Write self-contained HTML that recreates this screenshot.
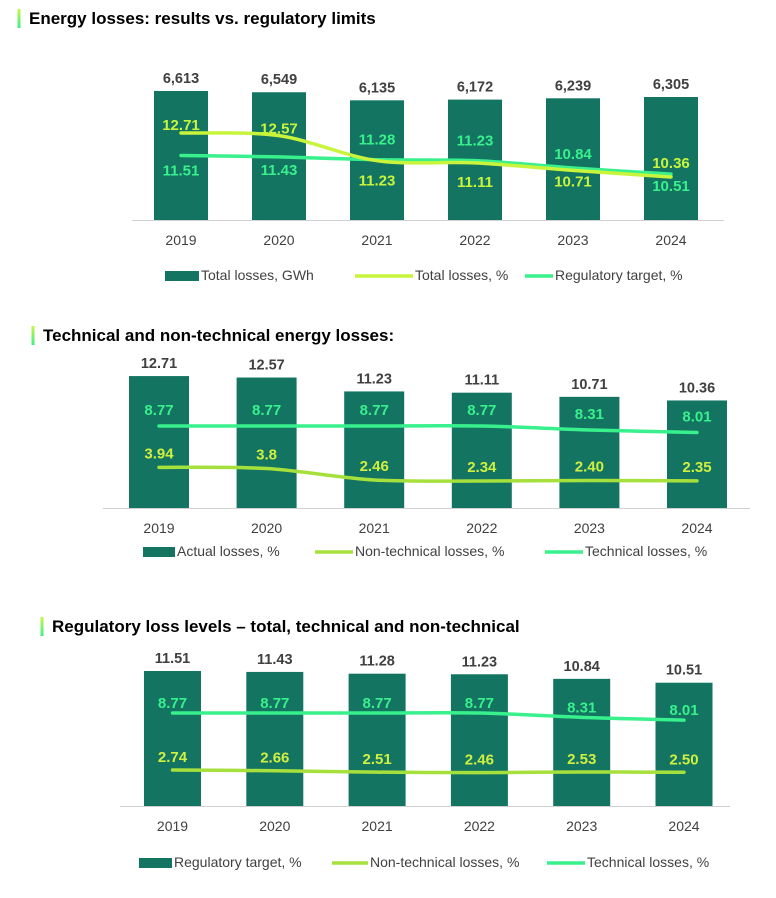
<!DOCTYPE html>
<html><head><meta charset="utf-8">
<style>
body{margin:0;background:#fff;width:776px;height:898px;overflow:hidden;font-family:"Liberation Sans",Arial,sans-serif}
svg{position:absolute;left:0;top:0}
</style></head>
<body>
<svg id="c" width="776" height="898" viewBox="0 0 776 898">
<defs><linearGradient id="tg" x1="0" y1="0" x2="0" y2="1"><stop offset="0" stop-color="#c8f545"/><stop offset="1" stop-color="#3df08a"/></linearGradient></defs>
</svg>
<script>
const years = ["2019","2020","2021","2022","2023","2024"];
// Chart 1
const c1Bars = [6613,6549,6135,6172,6239,6305];
const c1BarLabels = ["6,613","6,549","6,135","6,172","6,239","6,305"];
const c1Total = [12.71,12.57,11.23,11.11,10.71,10.36];
const c1Target = [11.51,11.43,11.28,11.23,10.84,10.51];
// Chart 2
const c2Bars = [12.71,12.57,11.23,11.11,10.71,10.36];
const c2NonTech = [3.94,3.8,2.46,2.34,2.40,2.35];
const c2NonTechLabels = ["3.94","3.8","2.46","2.34","2.40","2.35"];
const c2Tech = [8.77,8.77,8.77,8.77,8.31,8.01];
// Chart 3
const c3Bars = [11.51,11.43,11.28,11.23,10.84,10.51];
const c3NonTech = [2.74,2.66,2.51,2.46,2.53,2.50];
const c3NonTechLabels = ["2.74","2.66","2.51","2.46","2.53","2.50"];
const c3Tech = [8.77,8.77,8.77,8.77,8.31,8.01];

const NS="http://www.w3.org/2000/svg";
const svg=document.getElementById('c');
const BAR="#137461", LIME="#c8f53c", LIME2="#a6e03c", MINT="#38f08c", TXT="#404040";
function el(tag,attrs,parent){const e=document.createElementNS(NS,tag);for(const k in attrs)e.setAttribute(k,attrs[k]);(parent||svg).appendChild(e);return e;}
function txt(x,y,s,attrs){const t=el('text',Object.assign({x:x,y:y,'text-anchor':'middle','font-family':'Liberation Sans, Arial, sans-serif'},attrs));t.textContent=s;return t;}
function smooth(pts){let d="M"+pts[0][0]+","+pts[0][1];for(let i=0;i<pts.length-1;i++){const p0=pts[i-1]||pts[i],p1=pts[i],p2=pts[i+1],p3=pts[i+2]||p2;const t=0.16;d+=" C"+(p1[0]+(p2[0]-p0[0])*t)+","+(p1[1]+(p2[1]-p0[1])*t)+" "+(p2[0]-(p3[0]-p1[0])*t)+","+(p2[1]-(p3[1]-p1[1])*t)+" "+p2[0]+","+p2[1];}return d;}

function chart(cfg){
  const g=el('g',{});
  
  
  const tb=el('rect',{x:cfg.titleX-1.5,y:cfg.titleY-15,width:3,height:19,fill:'url(#tg)'},g);
  
  
  const tt=txt(cfg.titleX+10,cfg.titleY,cfg.title,{'text-anchor':'start','font-size':17,'font-weight':'bold',fill:'#000'});
  g.appendChild(tt);
  
  
  const xc=i=>cfg.x0+i*cfg.step;
  const yb=v=>cfg.axisY-v*cfg.barScale;
  const yl=v=>cfg.lineBase-v*cfg.lineScale;
  const ax=el('line',{x1:cfg.axL,x2:cfg.axR,y1:cfg.axisY+0.5,y2:cfg.axisY+0.5,stroke:'#d0d0d0','stroke-width':1},g);
  
  
  cfg.bars.forEach((v,i)=>{
    const r=el('rect',{x:xc(i)-cfg.bw/2,y:yb(v),width:cfg.bw,height:v*cfg.barScale,fill:BAR},g);
    
    
    const l=txt(xc(i),yb(v)-8,cfg.barLabels[i],{'font-size':14.5,'font-weight':'bold',fill:TXT});g.appendChild(l);
    
    
    const xl=txt(xc(i),cfg.axisY+25,years[i],{'font-size':14,fill:TXT});g.appendChild(xl);
    
    
  });
  cfg.lines.forEach(L=>{
    const pts=L.values.map((v,i)=>[xc(i),yl(v)]);
    const p=el('path',{d:smooth(pts),fill:'none',stroke:L.color,'stroke-width':3.5,'stroke-linecap':'round'},g);
    
    
    L.values.forEach((v,i)=>{
      const t=txt(xc(i),yl(v)+L.off[i],L.labels[i],{'font-size':15,'font-weight':'bold',fill:L.tcolor});g.appendChild(t);
      
      
    });
  });
  cfg.legend.forEach(e=>{
    const lg=el('g',{},g);
    
    
    if(e.type==='bar') el('rect',{x:e.x1,y:cfg.legY-9,width:e.x2-e.x1,height:10,fill:BAR},lg);
    else el('line',{x1:e.x1,x2:e.x2,y1:cfg.legY-4,y2:cfg.legY-4,stroke:e.color,'stroke-width':3.5},lg);
    lg.appendChild(txt(e.x2+2,cfg.legY,e.label,{'text-anchor':'start','font-size':14,fill:TXT}));
  });
}

chart({name:'energy-losses-chart',title:'Energy losses: results vs. regulatory limits',titleX:19,titleY:24,
  x0:181,step:98,bw:54,axisY:220,axL:132,axR:724,barScale:129/6613,
  lineBase:133+12.71*18.7,lineScale:18.7,bars:c1Bars,barLabels:c1BarLabels,legY:280,
  lines:[
    {name:'regulatory-target',values:c1Target,labels:c1Target.map(v=>v.toFixed(2)),color:MINT,tcolor:MINT,off:[20,18,-15,-15,-9,17]},
    {name:'total-losses-pct',values:c1Total,labels:c1Total.map(v=>v.toFixed(2)),color:LIME,tcolor:LIME,off:[-3,-2,25,24,16,-9]}
  ],
  legend:[{type:'bar',x1:165,x2:199,label:'Total losses, GWh'},{type:'line',x1:355,x2:413,color:LIME,label:'Total losses, %'},{type:'line',x1:525,x2:553,color:MINT,label:'Regulatory target, %'}]});

chart({name:'technical-nontechnical-chart',title:'Technical and non-technical energy losses:',titleX:33,titleY:341,
  x0:159,step:107.6,bw:60,axisY:508,axL:103,axR:750,barScale:10.38,
  lineBase:501,lineScale:8.55,bars:c2Bars,barLabels:c2Bars.map(v=>v.toFixed(2)),legY:556,
  lines:[
    {name:'technical-losses',values:c2Tech,labels:c2Tech.map(v=>v.toFixed(2)),color:MINT,tcolor:MINT,off:[-11,-11,-11,-11,-11,-11]},
    {name:'non-technical-losses',values:c2NonTech,labels:c2NonTechLabels,color:LIME2,tcolor:'#d0f040',off:[-9,-9,-9,-9,-9,-9]}
  ],
  legend:[{type:'bar',x1:143,x2:175,label:'Actual losses, %'},{type:'line',x1:315,x2:353,color:LIME2,label:'Non-technical losses, %'},{type:'line',x1:545,x2:583,color:MINT,label:'Technical losses, %'}]});

chart({name:'regulatory-loss-levels-chart',title:'Regulatory loss levels \u2013 total, technical and non-technical',titleX:42,titleY:632,
  x0:172.5,step:102.3,bw:57,axisY:806,axL:120,axR:730,barScale:11.73,
  lineBase:713+8.77*9.45,lineScale:9.45,bars:c3Bars,barLabels:c3Bars.map(v=>v.toFixed(2)),legY:867,
  lines:[
    {name:'technical-losses',values:c3Tech,labels:c3Tech.map(v=>v.toFixed(2)),color:MINT,tcolor:MINT,off:[-5,-5,-5,-5,-5,-5]},
    {name:'non-technical-losses',values:c3NonTech,labels:c3NonTechLabels,color:LIME2,tcolor:'#d0f040',off:[-8,-8,-8,-8,-8,-8]}
  ],
  legend:[{type:'bar',x1:139,x2:172,label:'Regulatory target, %'},{type:'line',x1:332,x2:368,color:LIME2,label:'Non-technical losses, %'},{type:'line',x1:547,x2:585,color:MINT,label:'Technical losses, %'}]});
</script>
</body></html>
